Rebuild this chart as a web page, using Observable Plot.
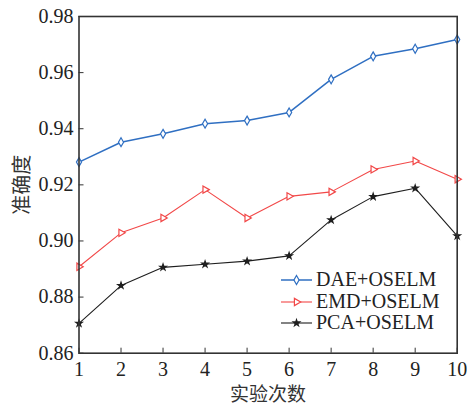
<!DOCTYPE html>
<html><head><meta charset="utf-8">
<script src="https://cdn.jsdelivr.net/npm/d3@7"></script>
<script src="https://cdn.jsdelivr.net/npm/@observablehq/plot@0.6"></script>
<style>
body{margin:0;background:#fff;}
#wrap{position:relative;width:467px;height:407px;font-family:"Liberation Serif","Times New Roman","DejaVu Serif",serif;}
#legend{position:absolute;left:280px;top:269px;font-size:20px;color:#222;line-height:21.7px;}
#legend div{display:flex;align-items:center;white-space:nowrap;}
#legend svg{margin-right:3px;}
</style></head><body>
<div id="wrap"></div>
<script>
const trials = [1,2,3,4,5,6,7,8,9,10];
const daeOselm = [0.9281,0.9352,0.9382,0.9418,0.9429,0.9458,0.9576,0.9658,0.9685,0.9718];
const emdOselm = [0.8908,0.9029,0.9082,0.9183,0.9082,0.9159,0.9175,0.9255,0.9285,0.9220];
const pcaOselm = [0.8706,0.8841,0.8906,0.8917,0.8928,0.8947,0.9075,0.9158,0.9188,0.9018];
const seriesNames = ["DAE+OSELM","EMD+OSELM","PCA+OSELM"];
const yTicks = [0.86,0.88,0.90,0.92,0.94,0.96,0.98];
const xTicks = trials;
const xLabel = "实验次数";
const yLabel = "准确度";

const serif = "Liberation Serif, Times New Roman, DejaVu Serif, serif";
const cjk = "Noto Sans CJK SC, sans-serif";
const colors = ["#2f6fc2","#f24848","#1e1e1e"];
const symbols = ["diamond","triangle","star"];
const rotates = [0,90,0];
const fills = ["white","white","#1e1e1e"];
const widths = [1.5,1.1,1.1];
const radii = [2.7,2.7,2.0];
const allSeries = [daeOselm, emdOselm, pcaOselm];
const rows = allSeries.flatMap((vals,s)=>trials.map((t,i)=>({trial:t, value:vals[i], s})));

const marks = [];
allSeries.forEach((vals,s)=>{
  const d = rows.filter(r=>r.s===s);
  marks.push(Plot.line(d,{x:"trial",y:"value",stroke:colors[s],strokeWidth:widths[s]}));
  marks.push(Plot.dot(d,{x:"trial",y:"value",symbol:()=>symbols[s],r:radii[s],rotate:rotates[s],stroke:colors[s],fill:fills[s],strokeWidth:1.2}));
});

const chart = Plot.plot({
  width:467, height:407,
  marginLeft:78.5, marginTop:16, marginRight:10.3, marginBottom:54.3,
  style:{fontFamily:serif, fontSize:"20px", color:"#222", background:"white"},
  x:{domain:[1,10]},
  y:{domain:[0.86,0.98]},
  marks:[
    ...marks,
    Plot.axisX({ticks:xTicks, tickFormat:d=>String(d), tickSize:-5, tickPadding:14, label:null, stroke:"#333", fontFamily:serif, fontSize:20}),
    Plot.axisY({ticks:yTicks, tickFormat:d=>d.toFixed(2), tickSize:-5, tickPadding:10.5, label:null, stroke:"#333", fontFamily:serif, fontSize:20}),
    Plot.frame({stroke:"#333", strokeWidth:1.6}),
    Plot.text([yLabel],{frameAnchor:"left", text:d=>d, rotate:-90, textAnchor:"middle", lineAnchor:"middle", dx:-56, fontSize:20, fill:"#333", fontFamily:cjk}),
    Plot.text([xLabel],{frameAnchor:"bottom", text:d=>d, textAnchor:"middle", lineAnchor:"middle", dy:42, fontSize:19, fill:"#333", fontFamily:cjk})
  ]
});
const wrap = document.getElementById("wrap");
wrap.appendChild(chart);

const legend = document.createElement("div");
legend.id = "legend";
const symPaths = [
  d3.symbol(d3.symbolDiamond, radii[0]*radii[0]*Math.PI)(),
  d3.symbol(d3.symbolTriangle, radii[1]*radii[1]*Math.PI)(),
  d3.symbol(d3.symbolStar, radii[2]*radii[2]*Math.PI)()
];
seriesNames.forEach((name,s)=>{
  const row = document.createElement("div");
  row.innerHTML = `<svg width="33" height="14"><line x1="1" x2="32" y1="7" y2="7" stroke="${colors[s]}" stroke-width="${widths[s]}"/><path d="${symPaths[s]}" transform="translate(16.5,7) rotate(${rotates[s]})" stroke="${colors[s]}" fill="${fills[s]}" stroke-width="1.2"/></svg><span>${name}</span>`;
  legend.appendChild(row);
});
wrap.appendChild(legend);
</script>
</body></html>
